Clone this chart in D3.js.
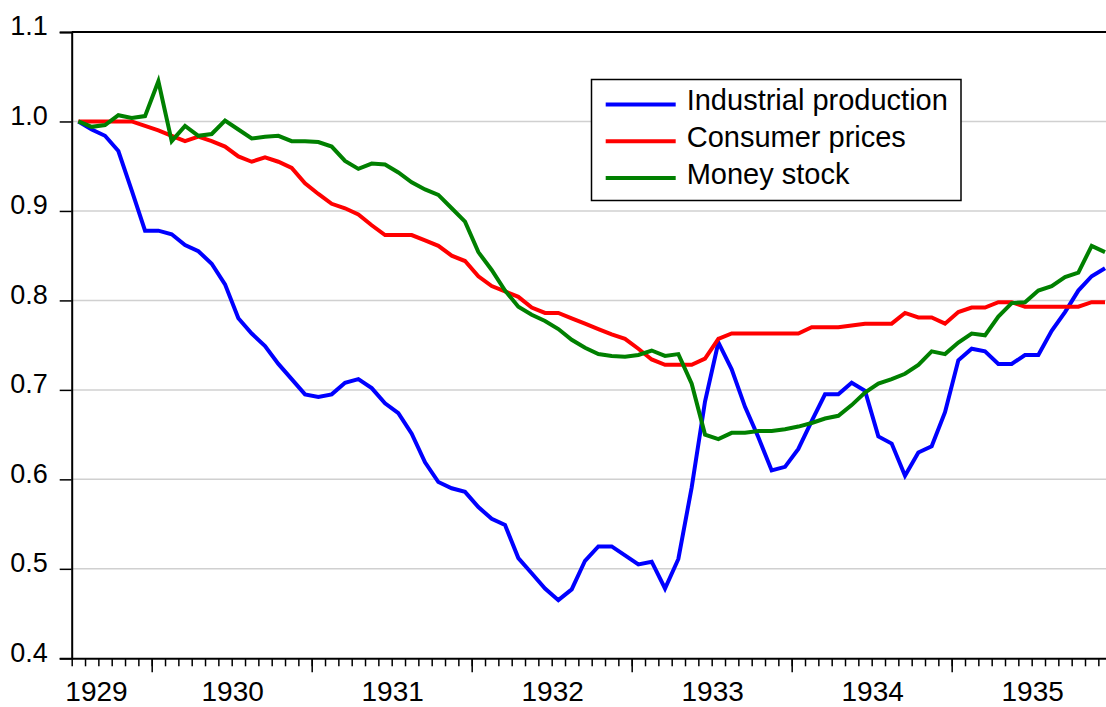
<!DOCTYPE html>
<html>
<head>
    <title>Industrial production, prices and money, 1929-1935</title>
    <script src="https://d3js.org/d3.v7.min.js"></script>
    <style>
        body { margin: 0; background: #fff; }
        text { font-family: "Liberation Sans", Arial, sans-serif; fill: #000; }
    </style>
</head>
<body>
<script>
// monthly observations, 1929M01 .. 1935M06
var years = [1929, 1930, 1931, 1932, 1933, 1934, 1935];

var industrial = [1.000,0.991,0.984,0.967,0.923,0.878,0.878,0.874,0.862,0.855,0.841,0.818,0.780,0.763,0.749,0.729,0.712,0.695,0.692,0.695,
    0.708,0.712,0.702,0.685,0.674,0.651,0.619,0.597,0.590,0.586,0.569,0.556,0.549,0.512,0.495,0.478,0.465,0.477,0.509,
    0.525,0.525,0.515,0.505,0.508,0.478,0.511,0.591,0.687,0.753,0.723,0.681,0.647,0.610,0.614,0.634,0.665,0.695,0.695,
    0.708,0.699,0.648,0.640,0.604,0.630,0.637,0.675,0.733,0.746,0.743,0.729,0.729,0.739,0.739,0.766,0.787,0.811,0.827,0.836];

var consumer = [1.000,1.000,1.000,1.000,1.000,0.995,0.990,0.984,0.978,0.983,0.978,0.972,0.961,0.955,0.960,0.955,0.948,0.931,0.919,0.908,
    0.903,0.896,0.884,0.873,0.873,0.873,0.867,0.861,0.850,0.844,0.827,0.816,0.810,0.804,0.792,0.786,0.786,0.780,0.774,
    0.768,0.762,0.757,0.746,0.734,0.728,0.728,0.728,0.735,0.757,0.763,0.763,0.763,0.763,0.763,0.763,0.770,0.770,0.770,
    0.772,0.774,0.774,0.774,0.786,0.781,0.781,0.774,0.787,0.792,0.792,0.798,0.798,0.793,0.793,0.793,0.793,0.793,0.798,0.798];

var money = [1.000,0.994,0.996,1.007,1.004,1.006,1.045,0.978,0.995,0.984,0.986,1.001,0.991,0.981,0.983,0.984,0.978,0.978,0.977,0.972,
    0.956,0.947,0.953,0.952,0.943,0.932,0.924,0.918,0.903,0.888,0.854,0.834,0.811,0.793,0.784,0.777,0.768,0.756,0.747,
    0.740,0.738,0.737,0.739,0.744,0.738,0.740,0.707,0.650,0.645,0.652,0.652,0.654,0.654,0.656,0.659,0.663,0.668,0.671,
    0.683,0.697,0.707,0.712,0.718,0.728,0.743,0.740,0.753,0.763,0.761,0.782,0.797,0.798,0.811,0.816,0.826,0.831,0.861,0.854];

var yTicks = [0.4, 0.5, 0.6, 0.7, 0.8, 0.9, 1.0, 1.1];

var series = [
    { name: "Industrial production", values: industrial, color: "#0000ff" },
    { name: "Consumer prices", values: consumer, color: "#ff0000" },
    { name: "Money stock", values: money, color: "#008000" }
];

var width = 1106, height = 707;
var plotLeft = 71.7, plotTop = 32, plotBottom = 658.3;
var nMonths = industrial.length;

var svg = d3.select("body").append("svg")
    .attr("width", width)
    .attr("height", height);

// month boundaries: 0 = start of 1929M01
var x = d3.scaleLinear()
    .domain([0, nMonths])
    .range([plotLeft, plotLeft + nMonths * 13.333]);

var y = d3.scaleLinear()
    .domain([0.4, 1.1])
    .range([plotBottom, plotTop]);

// grid lines
svg.append("g")
    .selectAll("line")
    .data(yTicks.slice(1, -1))
    .enter().append("line")
    .attr("x1", plotLeft)
    .attr("x2", x(nMonths))
    .attr("y1", function(d) { return y(d); })
    .attr("y2", function(d) { return y(d); })
    .attr("stroke", "#d0d0d0")
    .attr("stroke-width", 1.5);

// top frame
svg.append("line")
    .attr("x1", plotLeft).attr("x2", x(nMonths))
    .attr("y1", y(1.1)).attr("y2", y(1.1))
    .attr("stroke", "#000").attr("stroke-width", 2);

// lines
var line = d3.line()
    .x(function(d, i) { return x(i + 0.5); })
    .y(function(d) { return y(d); });

svg.append("g")
    .selectAll("path")
    .data(series)
    .enter().append("path")
    .attr("d", function(d) { return line(d.values); })
    .attr("fill", "none")
    .attr("stroke", function(d) { return d.color; })
    .attr("stroke-width", 4)
    .attr("stroke-linejoin", "miter");

// y axis
var yAxis = svg.append("g")
    .attr("transform", "translate(" + plotLeft + ",0)")
    .call(d3.axisLeft(y)
        .tickValues(yTicks)
        .tickSize(12)
        .tickPadding(12)
        .tickFormat(d3.format(".1f")));
yAxis.select(".domain").attr("stroke-width", 2);
yAxis.selectAll(".tick line").attr("stroke-width", 1.5);
yAxis.selectAll("text")
    .attr("font-size", 27)
    .attr("font-family", "Liberation Sans, Arial, sans-serif")
    .attr("dy", "0.1em");

// x axis, minor ticks each month, major ticks mid-year
var xAxis = svg.append("g")
    .attr("transform", "translate(0," + plotBottom + ")")
    .call(d3.axisBottom(x)
        .tickValues(d3.range(0, nMonths + 1))
        .tickSizeInner(8)
        .tickSizeOuter(0)
        .tickFormat(""));
xAxis.select(".domain").attr("stroke-width", 2);
xAxis.selectAll(".tick line").attr("stroke-width", 1.5);

var xMajor = svg.append("g")
    .attr("transform", "translate(0," + plotBottom + ")")
    .call(d3.axisBottom(x)
        .tickValues(d3.range(6, nMonths + 1, 12))
        .tickSizeInner(14)
        .tickSizeOuter(0)
        .tickFormat(""));
xMajor.select(".domain").remove();
xMajor.selectAll(".tick line").attr("stroke-width", 1.5);

svg.append("g")
    .selectAll("text")
    .data(years)
    .enter().append("text")
    .attr("x", function(d, i) { return Math.max(x(i * 12) + 1, 96.5); })
    .attr("y", 701)
    .attr("text-anchor", "middle")
    .attr("font-size", 28)
    .text(function(d) { return d; });

// legend
var legend = svg.append("g");
legend.append("rect")
    .attr("x", 591.5)
    .attr("y", 79.5)
    .attr("width", 369.5)
    .attr("height", 121)
    .attr("fill", "#fff")
    .attr("stroke", "#000")
    .attr("stroke-width", 1.5);

var item = legend.selectAll(".item")
    .data(series)
    .enter().append("g")
    .attr("class", "item")
    .attr("transform", function(d, i) { return "translate(0," + (104.6 + i * 36.7) + ")"; });

item.append("line")
    .attr("x1", 605.7).attr("x2", 675.7)
    .attr("stroke", function(d) { return d.color; })
    .attr("stroke-width", 4);

item.append("text")
    .attr("x", 686.7)
    .attr("y", 5.5)
    .attr("font-size", 29)
    .text(function(d) { return d.name; });
</script>
</body>
</html>
